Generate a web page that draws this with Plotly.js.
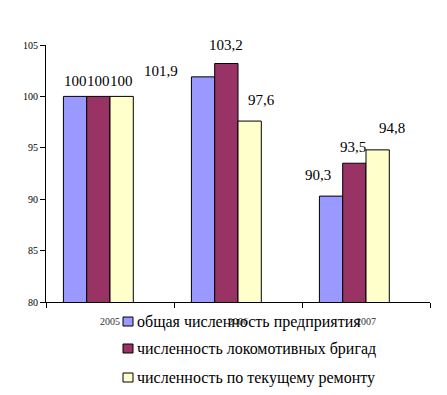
<!DOCTYPE html>
<html><head><meta charset="utf-8">
<script src="https://cdn.plot.ly/plotly-3.0.1.min.js"></script>
<style>body{margin:0;background:#fff}</style>
</head><body><div id="chart" style="width:447px;height:395px"></div>
<script>
var years = ['2005', '2006', '2007'];
var seriesNames = ['общая численность предприятия', 'численность локомотивных бригад', 'численность по текущему ремонту'];
var total = [100, 101.9, 90.3];
var crews = [100, 103.2, 93.5];
var repair = [100, 97.6, 94.8];
var labelTexts = [['100', '101,9', '90,3'], ['100', '103,2', '93,5'], ['100', '97,6', '94,8']];

var series = [total, crews, repair];
var colors = ['#9999FF', '#993366', '#FFFFCC'];
// manual label nudges (px) [series][year]
var dx = [[0, -42, -13], [0, 0, -1], [0, 12, 14]];
var dy = [[15, 6, 21], [15, 19, 16], [15, 21, 22]];

var bwU = 0.182; // bar width in category units (4 slots per group, 4th empty)
var traces = series.map(function (s, i) {
  return {
    type: 'bar', x: years, y: s, name: seriesNames[i],
    width: bwU, offset: -2 * bwU + i * bwU,
    marker: {color: colors[i], line: {color: '#000', width: 1}},
    showlegend: false, hoverinfo: 'none'
  };
});

var annotations = [];
series.forEach(function (s, i) {
  s.forEach(function (v, j) {
    annotations.push({
      x: j + (-1.5 + i) * bwU, y: v, xref: 'x', yref: 'y', text: labelTexts[i][j], showarrow: false,
      xshift: dx[i][j], yshift: dy[i][j], yanchor: 'middle',
      font: {family: 'Liberation Serif', size: 15, color: '#000'}
    });
  });
});

// hand-drawn legend (Excel style: small square right next to text)
var M = {l: 46, r: 17, t: 45, b: 93}, W = 447, H = 395;
function px(x) { return (x - M.l) / (W - M.l - M.r); }
function py(y) { return (H - M.b - y) / (H - M.t - M.b); }
var shapes = [];
var rowY = [321.5, 348.5, 377.5];
seriesNames.forEach(function (n, i) {
  shapes.push({type: 'rect', xref: 'paper', yref: 'paper',
    x0: px(123), x1: px(133), y0: py(rowY[i] - 4.5), y1: py(rowY[i] + 4.5),
    fillcolor: colors[i], line: {color: '#000', width: 1}});
  annotations.push({xref: 'paper', yref: 'paper', x: px(135), y: py(rowY[i]), xanchor: 'left', yanchor: 'middle',
    text: n, showarrow: false, font: {family: 'Liberation Serif', size: 16, color: '#000'}});
});

var layout = {
  width: W, height: H,
  margin: M,
  paper_bgcolor: '#fff', plot_bgcolor: '#fff',
  barmode: 'overlay', showlegend: false,
  font: {family: 'Liberation Serif', color: '#000'},
  xaxis: {type: 'category', range: [-0.5, 2.5], showline: true, linecolor: '#000', linewidth: 1,
    ticks: 'outside', tickson: 'boundaries', ticklen: 5, tickcolor: '#000', tickangle: 0, ticklabelstandoff: 10,
    tickfont: {family: 'Liberation Serif', size: 10, color: '#333'}, showgrid: false, zeroline: false},
  yaxis: {range: [80, 105], dtick: 5, showline: true, linecolor: '#000', linewidth: 1,
    ticks: 'outside', ticklen: 5, tickcolor: '#000', showgrid: false, zeroline: false,
    tickfont: {family: 'Liberation Serif', size: 10, color: '#000'}},
  annotations: annotations,
  shapes: shapes
};
Plotly.newPlot('chart', traces, layout, {displayModeBar: false, staticPlot: true});
</script></body></html>
